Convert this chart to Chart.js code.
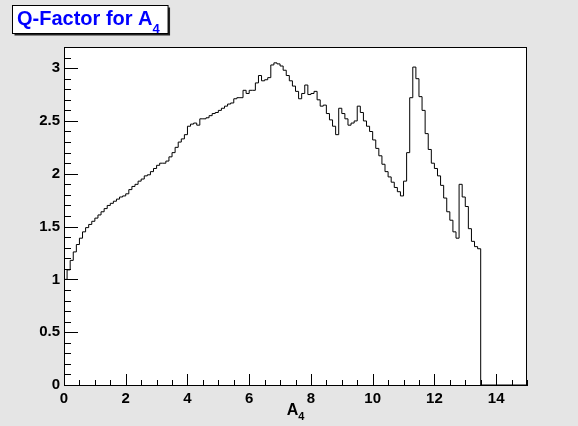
<!DOCTYPE html>
<html>
<head>
<meta charset="utf-8">
<script src="https://cdn.jsdelivr.net/npm/chart.js@4.4.1/dist/chart.umd.min.js"></script>
<style>
    body { margin: 0; background: #e5e5e5; }
    canvas { display: block; }
</style>
</head>
<body>
<canvas id="chartQ" width="578" height="426"></canvas>
<script>
// Data histogram (lebar bin 0.1, mulai dari 0)
const binWidth = 0.1;
const qFactor = [
    1.00, 1.09, 1.18, 1.26, 1.33, 1.39, 1.45, 1.49, 1.52, 1.55,
    1.58, 1.61, 1.64, 1.67, 1.70, 1.72, 1.74, 1.76, 1.78, 1.79,
    1.81, 1.85, 1.88, 1.90, 1.93, 1.95, 1.98, 1.99, 2.02, 2.05,
    2.08, 2.10, 2.10, 2.12, 2.16, 2.20, 2.25, 2.30, 2.33, 2.37,
    2.45, 2.47, 2.48, 2.46, 2.52, 2.52, 2.53, 2.55, 2.57, 2.58,
    2.60, 2.62, 2.64, 2.66, 2.67, 2.71, 2.72, 2.72, 2.79, 2.76,
    2.79, 2.79, 2.86, 2.93, 2.88, 2.89, 2.91, 3.03, 3.05, 3.04,
    3.02, 2.98, 2.93, 2.88, 2.83, 2.78, 2.71, 2.76, 2.84, 2.75,
    2.76, 2.78, 2.70, 2.64, 2.65, 2.57, 2.51, 2.45, 2.37, 2.62,
    2.57, 2.52, 2.46, 2.48, 2.50, 2.64, 2.58, 2.50, 2.45, 2.40,
    2.32, 2.24, 2.17, 2.09, 2.02, 1.97, 1.92, 1.87, 1.83, 1.79,
    1.93, 2.20, 2.72, 3.01, 2.90, 2.73, 2.60, 2.38, 2.23, 2.10,
    2.05, 1.98, 1.89, 1.77, 1.64, 1.56, 1.45, 1.39, 1.90, 1.78,
    1.69, 1.48, 1.36, 1.31, 1.29
];

const xMin = 0, xMax = 15;
const yMin = 0, yMax = 3.2;
const xTicks = [0, 2, 4, 6, 8, 10, 12, 14];
const yTicks = [0, 0.5, 1, 1.5, 2, 2.5, 3];
const xMinorStep = 0.5;
const yMinorStep = 0.1;

const judul = 'Q-Factor for A';
const judulSub = '4';
const judulX = 'A';
const judulXSub = '4';

const FONT = '"Liberation Sans", Arial, Helvetica, sans-serif';

// titik-titik tangga histogram (tepi kiri tiap bin)
const titik = qFactor.map((v, i) => ({ x: +(i * binWidth).toFixed(2), y: v }));
const xAkhir = +(qFactor.length * binWidth).toFixed(2);
titik.push({ x: xAkhir, y: 0 });
titik.push({ x: xMax, y: 0 });

// tick ke dalam, bingkai, judul
const rootStyle = {
    id: 'rootStyle',
    beforeDraw(chart) {
        const { ctx, chartArea: a } = chart;
        ctx.save();
        ctx.fillStyle = '#e5e5e5';
        ctx.fillRect(0, 0, chart.width, chart.height);
        ctx.fillStyle = '#ffffff';
        ctx.fillRect(a.left, a.top, a.right - a.left, a.bottom - a.top);
        ctx.restore();
    },
    afterDraw(chart) {
        const { ctx, chartArea: a } = chart;
        const sx = chart.scales.x, sy = chart.scales.y;
        ctx.save();
        ctx.lineWidth = 1;

        // bingkai atas dan kanan
        ctx.strokeStyle = '#000000';
        ctx.beginPath();
        ctx.moveTo(a.left, Math.round(a.top) + 0.5);
        ctx.lineTo(a.right, Math.round(a.top) + 0.5);
        ctx.moveTo(Math.round(a.right) - 0.5, a.top);
        ctx.lineTo(Math.round(a.right) - 0.5, a.bottom);
        ctx.stroke();

        ctx.beginPath();
        // tick sumbu x
        for (let v = xMin; v <= xMax + 1e-9; v += xMinorStep) {
            const px = Math.round(sx.getPixelForValue(v)) + 0.5;
            const besar = xTicks.some(t => Math.abs(t - v) < 1e-6);
            const len = besar ? 11 : 5;
            ctx.moveTo(px, a.bottom);
            ctx.lineTo(px, a.bottom - len);
        }
        // tick sumbu y
        for (let v = yMin; v <= yMax + 1e-9; v += yMinorStep) {
            const py = Math.round(sy.getPixelForValue(v)) + 0.5;
            const besar = yTicks.some(t => Math.abs(t - v) < 1e-6);
            const len = besar ? 14 : 7;
            ctx.moveTo(a.left, py);
            ctx.lineTo(a.left + len, py);
        }
        ctx.stroke();

        // judul sumbu x
        ctx.fillStyle = '#000000';
        ctx.textBaseline = 'alphabetic';
        ctx.font = 'bold 16px ' + FONT;
        const wA = ctx.measureText(judulX).width;
        ctx.font = 'bold 11px ' + FONT;
        const w4 = ctx.measureText(judulXSub).width;
        const xStart = (a.left + a.right) / 2 - (wA + w4) / 2;
        ctx.font = 'bold 16px ' + FONT;
        ctx.fillText(judulX, xStart, 415);
        ctx.font = 'bold 11px ' + FONT;
        ctx.fillText(judulXSub, xStart + wA, 420);

        // kotak judul
        ctx.font = 'bold 20px ' + FONT;
        const wJ = ctx.measureText(judul).width;
        const bx = 12.5, by = 5.5, bw = wJ + 20, bh = 28;
        ctx.fillStyle = '#222222';
        ctx.fillRect(bx + 2, by + 2, bw, bh);
        ctx.fillStyle = '#ffffff';
        ctx.fillRect(bx, by, bw, bh);
        ctx.strokeStyle = '#000000';
        ctx.strokeRect(bx, by, bw, bh);
        ctx.fillStyle = '#0000ff';
        ctx.fillText(judul, 17, 25);
        ctx.font = 'bold 13px ' + FONT;
        ctx.fillText(judulSub, 17 + wJ, 33);
        ctx.restore();
    }
};

new Chart(document.getElementById('chartQ').getContext('2d'), {
    type: 'line',
    data: {
        datasets: [{
            data: titik,
            stepped: 'before',
            borderColor: '#000000',
            borderWidth: 1,
            pointRadius: 0,
            fill: false,
            tension: 0
        }]
    },
    options: {
        responsive: false,
        animation: false,
        devicePixelRatio: 1,
        layout: { padding: { left: 0, right: 51, top: 47, bottom: 0 } },
        plugins: {
            legend: { display: false },
            title: { display: false },
            tooltip: { enabled: false }
        },
        scales: {
            x: {
                type: 'linear',
                min: xMin,
                max: xMax,
                afterBuildTicks: s => { s.ticks = xTicks.map(v => ({ value: v })); },
                afterFit: s => { s.height = 41; },
                grid: { display: false, drawTicks: false },
                border: { display: true, color: '#000000', width: 1 },
                ticks: {
                    color: '#000000',
                    padding: 5,
                    maxRotation: 0,
                    autoSkip: false,
                    callback: v => String(v),
                    font: { family: FONT, size: 15, weight: 'bold' }
                }
            },
            y: {
                type: 'linear',
                min: yMin,
                max: yMax,
                afterBuildTicks: s => { s.ticks = yTicks.map(v => ({ value: v })); },
                afterFit: s => { s.width = 64; },
                grid: { display: false, drawTicks: false },
                border: { display: true, color: '#000000', width: 1 },
                ticks: {
                    color: '#000000',
                    padding: 4,
                    autoSkip: false,
                    callback: v => String(v),
                    font: { family: FONT, size: 15, weight: 'bold' }
                }
            }
        }
    },
    plugins: [rootStyle]
});
</script>
</body>
</html>
